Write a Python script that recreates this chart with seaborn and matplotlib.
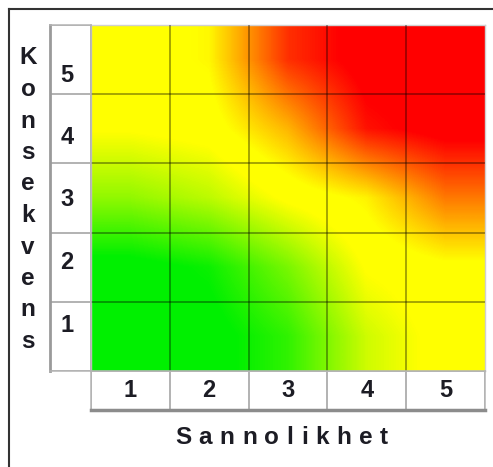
import numpy as np
import pandas as pd
import matplotlib
matplotlib.use('Agg')
import matplotlib.pyplot as plt
import seaborn as sns
from matplotlib.colors import LinearSegmentedColormap, ListedColormap
from matplotlib.lines import Line2D

# risk level per cell: 0 = green, 0.5 = yellow, 1 = red
konsekvens = [5, 4, 3, 2, 1]
sannolikhet = [1, 2, 3, 4, 5]
risk_k5 = [0.50, 0.55, 0.88, 1.00, 1.00]
risk_k4 = [0.47, 0.50, 0.66, 0.93, 1.00]
risk_k3 = [0.28, 0.35, 0.48, 0.56, 0.76]
risk_k2 = [0.00, 0.06, 0.24, 0.47, 0.52]
risk_k1 = [0.00, 0.00, 0.12, 0.38, 0.50]

df = pd.DataFrame([risk_k5, risk_k4, risk_k3, risk_k2, risk_k1],
                  index=konsekvens, columns=sannolikhet)

cmap = LinearSegmentedColormap.from_list(
    'risk', [(0, '#00f000'), (0.04, '#00f000'), (0.46, '#ffff00'),
             (0.54, '#ffff00'), (0.96, '#ff0000'), (1, '#ff0000')])
txt_col = '#1c1c24'
plt.rcParams['font.family'] = ['Liberation Sans', 'DejaVu Sans']

W, H = 493, 467
fig = plt.figure(figsize=(W / 100, H / 100), dpi=100)


def rect(x0, y0, x1, y1):
    return [x0 / W, 1 - y1 / H, (x1 - x0) / W, (y1 - y0) / H]


# main matrix
ax = fig.add_axes(rect(91, 25, 485, 371))
sns.heatmap(df, cmap=cmap, vmin=0, vmax=1, cbar=False, ax=ax, linewidths=0)
ax.imshow(df.values, cmap=cmap, vmin=0, vmax=1, extent=(0, 5, 5, 0),
          interpolation='bilinear', interpolation_stage='data', aspect='auto', zorder=2)
ax.set_xlim(0, 5)
ax.set_ylim(5, 0)
ax.hlines(range(1, 5), 0, 5, color=(0, 0, 0, 0.38), lw=1.3, zorder=3)
ax.vlines(range(1, 5), 0, 5, color=(0, 0, 0, 0.38), lw=1.3, zorder=3)
ax.set_xticks([])
ax.set_yticks([])
ax.set_xlabel('')
ax.set_ylabel('')
for s in ax.spines.values():
    s.set_visible(True)
    s.set_color('#d0d0d0')
    s.set_linewidth(1)

white = ListedColormap(['white'])
grid_col = '#b4b4b4'

# y label cells
ay = fig.add_axes(rect(50, 25, 91, 371))
sns.heatmap(pd.DataFrame(np.zeros((5, 1)), index=konsekvens), cmap=white, cbar=False,
            ax=ay, linewidths=1.1, linecolor=grid_col)
ay.set_xticks([])
ay.set_yticks([])
ay.set_ylabel('')
for s in ay.spines.values():
    s.set_visible(True)
    s.set_color(grid_col)
    s.set_linewidth(1.1)
ay.spines['left'].set_color('#9a9a9a')
ay.spines['left'].set_linewidth(2)
for i, k in enumerate(konsekvens):
    ay.text(0.42, 1 - (50 + 62.5 * i) / 346, str(k), transform=ay.transAxes,
            ha='center', va='center', fontsize=17, fontweight='bold', color=txt_col)

# x label cells
axx = fig.add_axes(rect(91, 371, 485, 410))
sns.heatmap(pd.DataFrame(np.zeros((1, 5)), columns=sannolikhet), cmap=white, cbar=False,
            ax=axx, linewidths=1.1, linecolor=grid_col,
            annot=np.array([[str(v) for v in sannolikhet]]), fmt='',
            annot_kws={'fontsize': 17, 'fontweight': 'bold', 'color': txt_col})
axx.set_xticks([])
axx.set_yticks([])
for s in axx.spines.values():
    s.set_visible(True)
    s.set_color(grid_col)
    s.set_linewidth(1.1)
axx.spines['bottom'].set_color('#8c8c8c')
axx.spines['bottom'].set_linewidth(2.5)

# axis titles
for i, ch in enumerate('Konsekvens'):
    fig.text(28 / W, 1 - (58 + 31.5 * i) / H, ch, ha='center', va='center',
             fontsize=17.5, fontweight='bold', color=txt_col)

# letter-spaced x title
title = 'Sannolikhet'
x_left, x_right = 175, 388
renderer = fig.canvas.get_renderer()
chars = [fig.text(0, 1 - 437 / H, ch, ha='left', va='center', fontsize=17.5,
                  fontweight='bold', color=txt_col) for ch in title]
widths = [c.get_window_extent(renderer).width for c in chars]
gap = (x_right - x_left - sum(widths)) / (len(chars) - 1)
x = x_left
for c, w in zip(chars, widths):
    c.set_x(x / W)
    x += w + gap

# outer frame
fig.add_artist(Line2D([9 / W, 9 / W], [0, 1 - 9 / H], color='#333333', lw=1.5))
fig.add_artist(Line2D([9 / W, 1], [1 - 9 / H, 1 - 9 / H], color='#333333', lw=1.5))

fig.savefig('out.png', dpi=100)
